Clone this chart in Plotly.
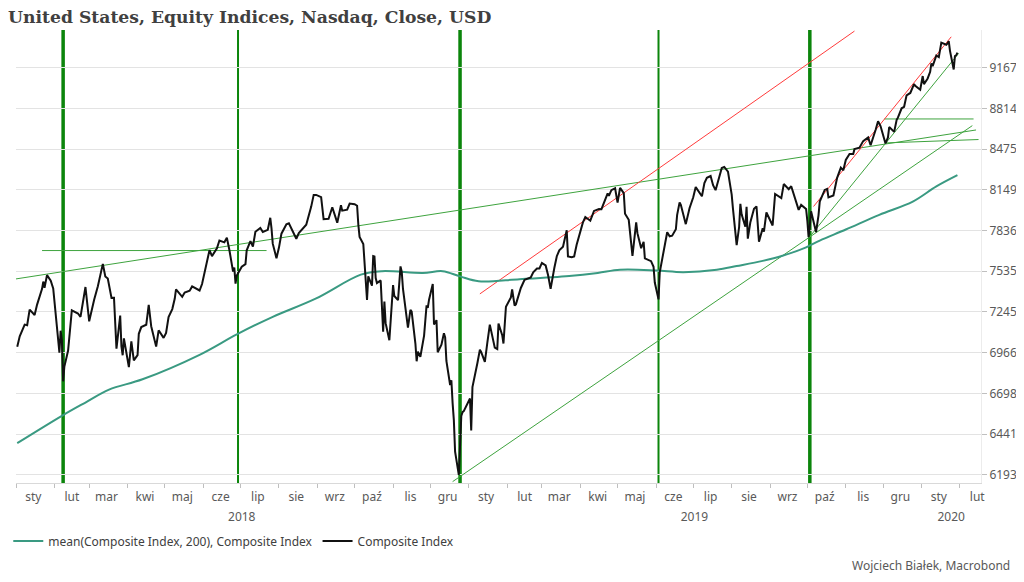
import math

import pandas as pd
import plotly.graph_objects as go

# -------------------------------
# Data
# -------------------------------
composite_dates = [
    "2018-01-02", "2018-01-04", "2018-01-08", "2018-01-10", "2018-01-12", "2018-01-16",
    "2018-01-18", "2018-01-22", "2018-01-23", "2018-01-24", "2018-01-26", "2018-01-29",
    "2018-01-31", "2018-02-02", "2018-02-05", "2018-02-06", "2018-02-07", "2018-02-08",
    "2018-02-09", "2018-02-12", "2018-02-14", "2018-02-15", "2018-02-20", "2018-02-22",
    "2018-02-26", "2018-02-28", "2018-03-01", "2018-03-05", "2018-03-08", "2018-03-12",
    "2018-03-14", "2018-03-16", "2018-03-19", "2018-03-21", "2018-03-22", "2018-03-23",
    "2018-03-26", "2018-03-27", "2018-03-28", "2018-03-29", "2018-04-02", "2018-04-04",
    "2018-04-06", "2018-04-09", "2018-04-10", "2018-04-12", "2018-04-16", "2018-04-18",
    "2018-04-20", "2018-04-24", "2018-04-26", "2018-04-30", "2018-05-02", "2018-05-04",
    "2018-05-07", "2018-05-09", "2018-05-10", "2018-05-15", "2018-05-17", "2018-05-21",
    "2018-05-23", "2018-05-29", "2018-05-31", "2018-06-04", "2018-06-06", "2018-06-08",
    "2018-06-12", "2018-06-14", "2018-06-18", "2018-06-20", "2018-06-22", "2018-06-25",
    "2018-06-26", "2018-06-27", "2018-06-28", "2018-07-02", "2018-07-05", "2018-07-06",
    "2018-07-09", "2018-07-11", "2018-07-13", "2018-07-17", "2018-07-19", "2018-07-23",
    "2018-07-25", "2018-07-26", "2018-07-27", "2018-07-30", "2018-08-01", "2018-08-03",
    "2018-08-07", "2018-08-09", "2018-08-13", "2018-08-15", "2018-08-17", "2018-08-21",
    "2018-08-23", "2018-08-27", "2018-08-29", "2018-08-31", "2018-09-04", "2018-09-06",
    "2018-09-10", "2018-09-13", "2018-09-17", "2018-09-20", "2018-09-21", "2018-09-25",
    "2018-09-27", "2018-10-01", "2018-10-03", "2018-10-04", "2018-10-05", "2018-10-08",
    "2018-10-10", "2018-10-11", "2018-10-12", "2018-10-15", "2018-10-16", "2018-10-17",
    "2018-10-18", "2018-10-19", "2018-10-22", "2018-10-24", "2018-10-25", "2018-10-26",
    "2018-10-29", "2018-10-30", "2018-11-01", "2018-11-02", "2018-11-05", "2018-11-07",
    "2018-11-08", "2018-11-09", "2018-11-12", "2018-11-13", "2018-11-15", "2018-11-16",
    "2018-11-19", "2018-11-20", "2018-11-21", "2018-11-23", "2018-11-26", "2018-11-28",
    "2018-11-29", "2018-11-30", "2018-12-03", "2018-12-04", "2018-12-06", "2018-12-07",
    "2018-12-10", "2018-12-12", "2018-12-13", "2018-12-14", "2018-12-17", "2018-12-18",
    "2018-12-19", "2018-12-20", "2018-12-21", "2018-12-24", "2018-12-26", "2018-12-27",
    "2018-12-28", "2018-12-31",
    "2019-01-02", "2019-01-03", "2019-01-04", "2019-01-08", "2019-01-10", "2019-01-11",
    "2019-01-14", "2019-01-16", "2019-01-18", "2019-01-22", "2019-01-24", "2019-01-25",
    "2019-01-28", "2019-01-29", "2019-01-31", "2019-02-04", "2019-02-05", "2019-02-07",
    "2019-02-08", "2019-02-12", "2019-02-15", "2019-02-20", "2019-02-22", "2019-02-25",
    "2019-02-27", "2019-03-01", "2019-03-04", "2019-03-06", "2019-03-08", "2019-03-11",
    "2019-03-13", "2019-03-15", "2019-03-18", "2019-03-21", "2019-03-22", "2019-03-25",
    "2019-03-27", "2019-03-29", "2019-04-01", "2019-04-03", "2019-04-05", "2019-04-09",
    "2019-04-12", "2019-04-16", "2019-04-18", "2019-04-23", "2019-04-24", "2019-04-26",
    "2019-04-29", "2019-05-01", "2019-05-03", "2019-05-06", "2019-05-07", "2019-05-10",
    "2019-05-13", "2019-05-14", "2019-05-16", "2019-05-17", "2019-05-20", "2019-05-22",
    "2019-05-23", "2019-05-28", "2019-05-30", "2019-05-31", "2019-06-03", "2019-06-04",
    "2019-06-06", "2019-06-10", "2019-06-12", "2019-06-14", "2019-06-17", "2019-06-18",
    "2019-06-20", "2019-06-21", "2019-06-25", "2019-06-27", "2019-06-28", "2019-07-01",
    "2019-07-03", "2019-07-08", "2019-07-10", "2019-07-12", "2019-07-15", "2019-07-17",
    "2019-07-19", "2019-07-24", "2019-07-26", "2019-07-29", "2019-07-31", "2019-08-01",
    "2019-08-02", "2019-08-05", "2019-08-07", "2019-08-08", "2019-08-09", "2019-08-12",
    "2019-08-13", "2019-08-14", "2019-08-16", "2019-08-19", "2019-08-21", "2019-08-23",
    "2019-08-26", "2019-08-27", "2019-08-29", "2019-09-03", "2019-09-05", "2019-09-10",
    "2019-09-12", "2019-09-16", "2019-09-18", "2019-09-20", "2019-09-24", "2019-09-26",
    "2019-09-30", "2019-10-01", "2019-10-02", "2019-10-03", "2019-10-04", "2019-10-08",
    "2019-10-10", "2019-10-11", "2019-10-15", "2019-10-17", "2019-10-18", "2019-10-22",
    "2019-10-24", "2019-10-25", "2019-10-28", "2019-10-30", "2019-11-01", "2019-11-04",
    "2019-11-07", "2019-11-08", "2019-11-12", "2019-11-15", "2019-11-19", "2019-11-21",
    "2019-11-25", "2019-11-27", "2019-11-29", "2019-12-02", "2019-12-03", "2019-12-05",
    "2019-12-06", "2019-12-10", "2019-12-12", "2019-12-13", "2019-12-16", "2019-12-18",
    "2019-12-20", "2019-12-23", "2019-12-26", "2019-12-27", "2019-12-31",
    "2020-01-02", "2020-01-03", "2020-01-06", "2020-01-08", "2020-01-09", "2020-01-10",
    "2020-01-13", "2020-01-15", "2020-01-17", "2020-01-21", "2020-01-22", "2020-01-23",
    "2020-01-24", "2020-01-27", "2020-01-28", "2020-01-29", "2020-01-30",
]
composite_values = [
    7006, 7077, 7157, 7153, 7261, 7224,
    7296, 7408, 7460, 7416, 7506, 7466,
    7411, 7240, 6967, 7115, 7051, 6777,
    6874, 6981, 7143, 7256, 7234, 7210,
    7421, 7273, 7180, 7330, 7427, 7588,
    7496, 7482, 7344, 7345, 7167, 6993,
    7220, 7008, 6949, 7063, 6870, 7042,
    6915, 6950, 7094, 7140, 7156, 7295,
    7146, 7007, 7118, 7066, 7100, 7209,
    7265, 7339, 7404, 7351, 7382, 7394,
    7425, 7396, 7442, 7606, 7689, 7645,
    7703, 7761, 7747, 7781, 7692, 7532,
    7561, 7445, 7503, 7567, 7586, 7688,
    7756, 7716, 7826, 7855, 7825, 7841,
    7932, 7852, 7737, 7630, 7708, 7812,
    7883, 7891, 7819, 7774, 7816, 7860,
    7879, 8018, 8109, 8109, 8091, 7922,
    7924, 8013, 7895, 8028, 7987, 7994,
    8042, 8037, 8025, 7879, 7788, 7735,
    7422, 7329, 7497, 7430, 7645, 7642,
    7485, 7449, 7468, 7108, 7318, 7167,
    7050, 7161, 7434, 7357, 7328, 7570,
    7530, 7407, 7200, 7136, 7259, 7247,
    7028, 6909, 6973, 6939, 7082, 7291,
    7273, 7331, 7442, 7158, 7188, 6969,
    7020, 7098, 7070, 6911, 6753, 6784,
    6636, 6528, 6333, 6193, 6554, 6579,
    6585, 6635,
    6666, 6463, 6739, 6897, 6986, 6971,
    6905, 7034, 7157, 7000, 6990, 7165,
    7085, 7028, 7281, 7347, 7403, 7289,
    7298, 7414, 7472, 7489, 7527, 7554,
    7555, 7595, 7577, 7505, 7408, 7558,
    7644, 7688, 7714, 7838, 7643, 7637,
    7643, 7729, 7828, 7895, 7938, 7910,
    7985, 8000, 7998, 8120, 8102, 8146,
    8161, 8049, 8164, 8123, 7963, 7917,
    7647, 7735, 7898, 7816, 7703, 7751,
    7628, 7608, 7567, 7453, 7333, 7527,
    7616, 7823, 7792, 7797, 7845, 7953,
    8051, 8032, 7884, 7967, 8006, 8091,
    8170, 8098, 8202, 8244, 8258, 8185,
    8146, 8321, 8330, 8293, 8175, 8111,
    8004, 7726, 7862, 8039, 7959, 7864,
    8016, 7774, 7896, 8002, 8020, 7751,
    7853, 7827, 7973, 7874, 8116, 8084,
    8194, 8154, 8177, 8117, 7993, 8031,
    7999, 7908, 7785, 7872, 7982, 7824,
    7951, 8057, 8148, 8156, 8089, 8104,
    8186, 8243, 8325, 8303, 8386, 8434,
    8434, 8475, 8486, 8540, 8570, 8506,
    8632, 8705, 8665, 8567, 8521, 8570,
    8656, 8616, 8717, 8735, 8814, 8827,
    8925, 8945, 9022, 9006, 8973,
    9092, 9021, 9071, 9129, 9203, 9179,
    9274, 9259, 9389, 9370, 9383, 9402,
    9315, 9150, 9269, 9275, 9299,
]

ma_dates = [
    "2018-01-02", "2018-02-08", "2018-02-26", "2018-03-17", "2018-04-13", "2018-05-29",
    "2018-06-28", "2018-07-27", "2018-08-31", "2018-10-06", "2018-10-23", "2018-11-25",
    "2018-12-11", "2018-12-25", "2019-01-09", "2019-02-11", "2019-03-23", "2019-04-15",
    "2019-05-03", "2019-06-01", "2019-06-23", "2019-07-20", "2019-08-05", "2019-08-26",
    "2019-09-11", "2019-09-30", "2019-10-11", "2019-11-01", "2019-11-28", "2019-12-25",
    "2020-01-13", "2020-01-30",
]
ma_values = [
    6385, 6560, 6640, 6723, 6790, 6952,
    7090, 7211, 7340, 7510, 7535, 7522,
    7535, 7497, 7462, 7477, 7500, 7522,
    7545, 7540, 7528, 7545, 7572, 7610,
    7648, 7710, 7760, 7843, 7955, 8057,
    8176, 8265,
]

# Signal lows marked with vertical lines
major_lows = ["2018-02-08", "2018-12-25", "2019-10-03"]
minor_lows = ["2018-06-29", "2019-06-03"]

# Hand-drawn trend lines: (start date, start value, end date, end value)
green_lines = [
    ("2018-01-01", 7479, "2020-02-14", 8632),
    ("2018-01-22", 7686, "2018-07-22", 7686),
    ("2018-12-19", 6153, "2020-02-11", 8668),
    ("2019-10-03", 7790, "2020-01-31", 9293),
    ("2019-12-02", 8724, "2020-02-12", 8724),
    ("2019-12-03", 8525, "2020-02-16", 8553),
]
red_lines = [
    ("2019-01-10", 7372, "2019-11-08", 9494),
    ("2019-10-06", 8019, "2020-01-25", 9442),
]

y_ticks = [6193, 6441, 6698, 6966, 7245, 7535, 7836, 8149, 8475, 8814, 9167]
month_names = ["sty", "lut", "mar", "kwi", "maj", "cze", "lip", "sie", "wrz", "paź", "lis", "gru"]
year_labels = ["2018", "2019", "2020"]
year_label_dates = ["2018-07-02", "2019-07-02", "2020-01-25"]

X_START, X_END = "2018-01-01", "2020-02-18"
Y_MIN, Y_MAX = 6145, 9504

# -------------------------------
# Figure
# -------------------------------
fig = go.Figure()

for d0, v0, d1, v1 in green_lines:
    fig.add_trace(go.Scatter(x=[d0, d1], y=[v0, v1], mode="lines",
                             line=dict(color="#3ea33e", width=1),
                             showlegend=False, hoverinfo="skip"))
for d0, v0, d1, v1 in red_lines:
    fig.add_trace(go.Scatter(x=[d0, d1], y=[v0, v1], mode="lines",
                             line=dict(color="#ff3b3b", width=1),
                             showlegend=False, hoverinfo="skip"))

fig.add_trace(go.Scatter(
    x=ma_dates, y=ma_values, mode="lines", line_shape="spline",
    name="mean(Composite Index, 200), Composite Index",
    line=dict(color="#3a9a82", width=2),
))
fig.add_trace(go.Scatter(
    x=composite_dates, y=composite_values, mode="lines",
    name="Composite Index",
    line=dict(color="#111111", width=2),
))

# invisible carrier for the year-label axis
fig.add_trace(go.Scatter(x=ma_dates, y=ma_values, xaxis="x2", mode="lines",
                         line=dict(width=0), opacity=0,
                         showlegend=False, hoverinfo="skip"))

for d in major_lows:
    fig.add_vline(x=d, line_width=3.5, line_color="#0b850b", layer="below")
for d in minor_lows:
    fig.add_vline(x=d, line_width=2, line_color="#0b850b", layer="below")

# month ticks: labels mid-month, small marks at month starts
month_starts = pd.date_range("2018-01-01", "2020-02-01", freq="MS")
month_mids = month_starts + pd.Timedelta(days=14)
month_text = [month_names[d.month - 1] for d in month_starts]

tick_font = dict(family="Noto Sans, sans-serif", size=12, color="#595959")

# the page body adds an 8px offset, so the figure is 16px smaller than the window
fig.update_layout(
    width=1008,
    height=566,
    margin=dict(l=8, r=35, t=22, b=10, autoexpand=False),
    paper_bgcolor="white",
    plot_bgcolor="white",
    title=dict(
        text="<b>United States, Equity Indices, Nasdaq, Close, USD</b>",
        font=dict(family="DejaVu Serif, serif", size=17.2, color="#404040"),
        x=0.0, xanchor="left", y=0.984, yanchor="middle",
        pad=dict(l=0, r=0, t=0, b=0),
    ),
    xaxis=dict(
        type="date",
        range=[X_START, X_END],
        showgrid=False,
        showline=True, linecolor="#d9d9d9",
        tickmode="array", tickvals=month_mids, ticktext=month_text,
        ticks="outside", ticklen=3, tickcolor="rgba(0,0,0,0)",
        tickangle=0,
        tickfont=tick_font,
        minor=dict(tickmode="array", tickvals=month_starts, ticks="outside",
                   ticklen=4, tickcolor="#bfbfbf", showgrid=False),
    ),
    xaxis2=dict(
        type="date",
        overlaying="x", matches="x", anchor="free", position=0.1049,
        side="bottom",
        showgrid=False, showline=False, ticks="",
        tickmode="array", tickvals=year_label_dates, ticktext=year_labels,
        tickangle=0, tickfont=tick_font,
    ),
    yaxis=dict(
        type="log",
        domain=[0.1517, 1],
        range=[math.log10(Y_MIN), math.log10(Y_MAX)],
        side="right",
        tickmode="array", tickvals=y_ticks, ticktext=[str(v) for v in y_ticks],
        showgrid=True, gridcolor="#e3e3e3", gridwidth=1,
        showline=True, linecolor="#ececec",
        ticks="outside", ticklen=5, tickcolor="#bfbfbf",
        tickfont=tick_font,
        zeroline=False,
    ),
    legend=dict(
        orientation="h",
        x=-0.008, xanchor="left",
        y=0.0431, yanchor="middle",
        font=dict(family="Noto Sans, sans-serif", size=12, color="#404040"),
        itemwidth=30,
        bgcolor="rgba(0,0,0,0)",
    ),
    showlegend=True,
    hovermode=False,
)

fig.add_annotation(
    text="Wojciech Białek, Macrobond",
    xref="paper", yref="paper",
    x=1.0321, y=-0.0019, xanchor="right", yanchor="middle",
    showarrow=False,
    font=dict(family="Noto Sans, sans-serif", size=12, color="#595959"),
)

fig.write_html("out.html")
